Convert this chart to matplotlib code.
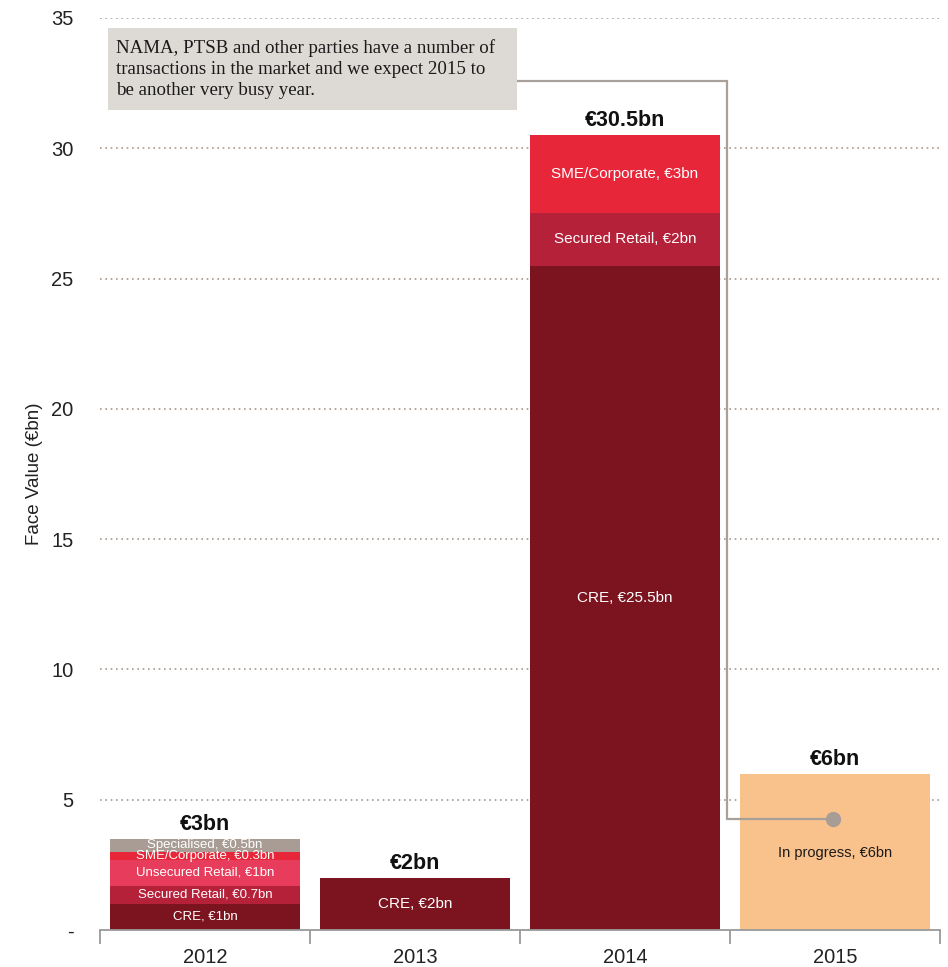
import matplotlib
matplotlib.use("Agg")
import matplotlib.pyplot as plt
from matplotlib.ticker import FixedLocator

plt.rcParams['font.family'] = ['Liberation Sans', 'DejaVu Sans']

years = ["2012", "2013", "2014", "2015"]
totals_text = ["€3bn", "€2bn", "€30.5bn", "€6bn"]

# stacked segments: (year index, value, label, colour key)
seg_year = [0, 0, 0, 0, 0, 1, 2, 2, 2, 3]
seg_value = [1.0, 0.7, 1.0, 0.3, 0.5, 2.0, 25.5, 2.0, 3.0, 6.0]
seg_name = ["CRE", "Secured Retail", "Unsecured Retail", "SME/Corporate", "Specialised",
            "CRE", "CRE", "Secured Retail", "SME/Corporate", "In progress"]
seg_text = ["€1bn", "€0.7bn", "€1bn", "€0.3bn", "€0.5bn",
            "€2bn", "€25.5bn", "€2bn", "€3bn", "€6bn"]

colors = {
    "CRE": "#7c141f",
    "Secured Retail": "#b6213a",
    "Unsecured Retail": "#e83c5c",
    "SME/Corporate": "#e8263a",
    "Specialised": "#a89c94",
    "In progress": "#f9c28c",
}

yticks = [0, 5, 10, 15, 20, 25, 30, 35]
ytick_labels = ["-", "5", "10", "15", "20", "25", "30", "35"]

note = ("NAMA, PTSB and other parties have a number of\n"
        "transactions in the market and we expect 2015 to\n"
        "be another very busy year.")

fig = plt.figure(figsize=(9.48, 9.67), dpi=100)
ax = fig.add_axes([100 / 948, 1 - 930 / 967, 840 / 948, 912 / 967])
ax.set_xlim(-0.5, 3.5)
ax.set_ylim(0, 35)

# dotted grid
for y in yticks[1:]:
    ax.axhline(y, color="#a8988e", lw=1.2, ls=(0, (1, 2.2)), zorder=0)

bar_w = 0.905
bottoms = [0.0] * len(years)
for yi, v, name, txt in zip(seg_year, seg_value, seg_name, seg_text):
    b = bottoms[yi]
    ax.bar(yi, v, bottom=b, width=bar_w, color=colors[name], edgecolor="none", zorder=2)
    if yi == 0:
        fs, tc = 9.5, "white"
    elif name == "In progress":
        fs, tc = 10.5, "#1a1a1a"
    else:
        fs, tc = 11, "white"
    ty = b + v / 2
    if name == "In progress":
        ty = 2.95
    ax.text(yi, ty, f"{name}, {txt}", ha="center", va="center", color=tc,
            fontsize=fs, zorder=4)
    bottoms[yi] = b + v

for i, t in enumerate(totals_text):
    ax.text(i, bottoms[i] + 0.15, t, ha="center", va="bottom", fontsize=15.5,
            fontweight="bold", color="#111111", zorder=4)

# axes styling
for s in ["top", "right", "left"]:
    ax.spines[s].set_visible(False)
ax.spines["bottom"].set_color("#9a9a9a")
ax.spines["bottom"].set_linewidth(1.3)
ax.set_yticks(yticks)
ax.set_yticklabels(ytick_labels, fontsize=14.5, color="#222222")
ax.tick_params(axis="y", length=0, pad=19)
ax.set_xticks(range(len(years)))
ax.set_xticklabels(years, fontsize=14.5, color="#222222")
ax.tick_params(axis="x", which="major", length=0, pad=13)
ax.xaxis.set_minor_locator(FixedLocator([-0.5, 0.5, 1.5, 2.5, 3.5]))
ax.tick_params(axis="x", which="minor", length=10, width=1.3, color="#9a9a9a", direction="out")
ax.set_ylabel("Face Value (€bn)", fontsize=13.5, color="#222222", labelpad=6)

# callout connector and dot
cx = [1.486, 2.485, 2.485, 2.99]
cy = [32.6, 32.6, 4.26, 4.26]
ax.plot(cx, cy, color="#a8a09a", lw=1.6, zorder=3, solid_joinstyle="miter")
ax.plot([2.99], [4.26], "o", ms=10, color="#a89c96", zorder=5)

# note box
fig.patches.append(plt.Rectangle((108 / 948, 1 - 110 / 967), 409 / 948, 82 / 967,
                                 transform=fig.transFigure, facecolor="#dddad6",
                                 edgecolor="none", zorder=5))
fig.text(116 / 948, 1 - 39 / 967, note, ha="left", va="top", fontsize=13.6,
         family=["Liberation Serif", "DejaVu Serif"], color="#1a1a1a",
         linespacing=1.32, zorder=6)

fig.savefig("out.png", dpi=100)
